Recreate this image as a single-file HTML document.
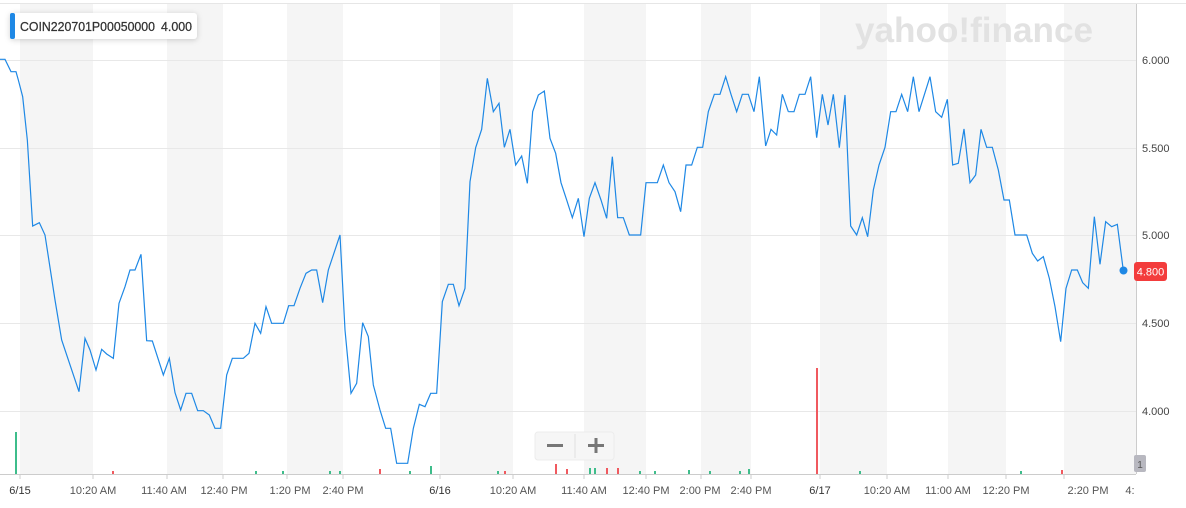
<!DOCTYPE html>
<html><head><meta charset="utf-8"><style>
body{margin:0;width:1186px;height:508px;overflow:hidden;background:#fff;font-family:"Liberation Sans",Arial,sans-serif}
svg{position:absolute;left:0;top:0}
</style></head><body>
<svg width="1186" height="508" viewBox="0 0 1186 508" xmlns="http://www.w3.org/2000/svg">
<line x1="0" y1="3.5" x2="1186" y2="3.5" stroke="#e6e6e6"/>
<g fill="#f5f5f5">
<rect x="20" y="4" width="73" height="470"/>
<rect x="167" y="4" width="56" height="470"/>
<rect x="287" y="4" width="56" height="470"/>
<rect x="440" y="4" width="73" height="470"/>
<rect x="584" y="4" width="62" height="470"/>
<rect x="701" y="4" width="50" height="470"/>
<rect x="820" y="4" width="67" height="470"/>
<rect x="948" y="4" width="58" height="470"/>
<rect x="1064" y="4" width="72" height="470"/>
</g>
<g stroke="#e8e8e8" stroke-width="1">
<line x1="0" y1="60.5" x2="1136" y2="60.5"/>
<line x1="0" y1="148.5" x2="1136" y2="148.5"/>
<line x1="0" y1="235.5" x2="1136" y2="235.5"/>
<line x1="0" y1="323.5" x2="1136" y2="323.5"/>
<line x1="0" y1="411.5" x2="1136" y2="411.5"/>
</g>
<text x="974" y="42" text-anchor="middle" font-size="35" font-weight="bold" fill="#e2e2e2" textLength="238" lengthAdjust="spacingAndGlyphs">yahoo!finance</text>
<line x1="1136.5" y1="4" x2="1136.5" y2="474" stroke="#ccc"/>
<line x1="0" y1="474.5" x2="1136" y2="474.5" stroke="#ccc"/>
<g stroke="#ccc">
<line x1="20" y1="474" x2="20" y2="479"/><line x1="93" y1="474" x2="93" y2="479"/><line x1="167" y1="474" x2="167" y2="479"/><line x1="223" y1="474" x2="223" y2="479"/><line x1="287" y1="474" x2="287" y2="479"/><line x1="343" y1="474" x2="343" y2="479"/><line x1="440" y1="474" x2="440" y2="479"/><line x1="513" y1="474" x2="513" y2="479"/><line x1="584" y1="474" x2="584" y2="479"/><line x1="646" y1="474" x2="646" y2="479"/><line x1="701" y1="474" x2="701" y2="479"/><line x1="751" y1="474" x2="751" y2="479"/><line x1="820" y1="474" x2="820" y2="479"/><line x1="887" y1="474" x2="887" y2="479"/><line x1="948" y1="474" x2="948" y2="479"/><line x1="1006" y1="474" x2="1006" y2="479"/><line x1="1064" y1="474" x2="1064" y2="479"/>
</g>
<g stroke-width="2">
<line x1="16" y1="432" x2="16" y2="474" stroke="#3ebd8b"/>
<line x1="817" y1="368" x2="817" y2="474" stroke="#f0595f"/>
<line x1="431" y1="466" x2="431" y2="474" stroke="#3ebd8b"/>
<line x1="556" y1="464" x2="556" y2="474" stroke="#f0595f"/>
<line x1="590" y1="468" x2="590" y2="474" stroke="#3ebd8b"/>
<line x1="595" y1="468" x2="595" y2="474" stroke="#3ebd8b"/>
<line x1="607" y1="468" x2="607" y2="474" stroke="#f0595f"/>
<line x1="618" y1="468" x2="618" y2="474" stroke="#f0595f"/>
<line x1="567" y1="469" x2="567" y2="474" stroke="#f0595f"/>
<line x1="380" y1="469" x2="380" y2="474" stroke="#f0595f"/>
<line x1="749" y1="469" x2="749" y2="474" stroke="#3ebd8b"/>
<line x1="689" y1="470" x2="689" y2="474" stroke="#3ebd8b"/>
<line x1="740" y1="471" x2="740" y2="474" stroke="#3ebd8b"/>
<line x1="1062" y1="470" x2="1062" y2="474" stroke="#f0595f"/>
<line x1="1021" y1="471" x2="1021" y2="474" stroke="#3ebd8b"/>
<line x1="410" y1="471" x2="410" y2="474" stroke="#3ebd8b"/>
<line x1="498" y1="471" x2="498" y2="474" stroke="#3ebd8b"/>
<line x1="505" y1="471" x2="505" y2="474" stroke="#f0595f"/>
<line x1="860" y1="471" x2="860" y2="474" stroke="#3ebd8b"/>
<line x1="256" y1="471" x2="256" y2="474" stroke="#3ebd8b"/>
<line x1="283" y1="471" x2="283" y2="474" stroke="#3ebd8b"/>
<line x1="330" y1="471" x2="330" y2="474" stroke="#3ebd8b"/>
<line x1="340" y1="471" x2="340" y2="474" stroke="#3ebd8b"/>
<line x1="640" y1="471" x2="640" y2="474" stroke="#3ebd8b"/>
<line x1="655" y1="471" x2="655" y2="474" stroke="#3ebd8b"/>
<line x1="710" y1="471" x2="710" y2="474" stroke="#3ebd8b"/>
<line x1="113" y1="471" x2="113" y2="474" stroke="#f0595f"/>
</g>
<g transform="translate(0,40) scale(0.33333)" fill="none" stroke="#1e88e5" stroke-width="1.2">
<polyline vector-effect="non-scaling-stroke" points="0,58 15,58 33,95 48,95 55,120 68,170 82,300 98,558 118,548 135,585 165,780 185,900 237,1055 255,895 270,930 288,990 305,928 320,942 340,955 357,790 375,740 390,690 405,690 423,643 440,902 457,903 490,1005 508,955 525,1058 542,1110 558,1060 575,1060 593,1112 610,1112 628,1125 645,1165 662,1165 680,1005 697,955 730,955 747,940 765,850 782,880 798,800 815,850 850,850 866,797 882,797 900,745 918,700 935,690 950,690 968,788 985,690 1020,585 1035,870 1053,1060 1070,1030 1088,848 1105,890 1120,1035 1140,1110 1157,1165 1172,1165 1190,1270 1200,1270"/>
</g>
<g transform="translate(390,40) scale(0.33333)" fill="none" stroke="#1e88e5" stroke-width="1.2">
<polyline vector-effect="non-scaling-stroke" points="30,1270 53,1270 70,1165 88,1093 105,1100 122,1060 140,1060 157,785 175,733 190,733 207,797 225,745 240,425 257,323 275,268 292,115 310,215 327,190 343,322 360,268 377,375 395,348 412,430 428,215 445,165 463,153 480,295 497,340 513,428 530,480 547,533 565,475 582,590 598,475 615,428 633,480 650,535 667,350 683,533 700,533 718,585 752,585 768,428 802,428 820,375 837,428 855,455 872,515 888,375 905,375 922,322 938,322 955,215 973,163 990,163 1007,110 1023,163 1040,215 1057,163 1075,163 1092,215 1108,110 1127,318 1143,268 1160,285 1177,163 1195,215"/>
</g>
<g transform="translate(780,40) scale(0.33333)" fill="none" stroke="#1e88e5" stroke-width="1.2">
<polyline vector-effect="non-scaling-stroke" points="25,215 42,215 58,163 75,163 92,110 110,293 127,163 144,255 160,163 178,323 195,165 212,558 230,585 247,533 263,590 280,450 297,375 315,322 332,215 348,215 365,163 383,215 400,110 417,215 450,110 467,215 485,232 502,178 518,375 535,370 552,267 570,428 587,405 603,268 620,322 637,322 655,390 672,480 688,480 705,585 740,585 757,640 773,663 790,650 808,715 825,800 842,905 858,745 875,690 892,690 908,728 925,745 943,530 960,673 977,545 995,560 1012,553 1030,692"/>
</g>
<circle cx="1123.5" cy="270.5" r="4" fill="#1e88e5"/>
<g font-size="11" fill="#444">
<text x="1142" y="64">6.000</text>
<text x="1142" y="152">5.500</text>
<text x="1142" y="239">5.000</text>
<text x="1142" y="327">4.500</text>
<text x="1142" y="415">4.000</text>
</g>
<rect x="1134" y="262" width="33" height="19" rx="3" fill="#f33c3c"/>
<text x="1150.5" y="275.5" text-anchor="middle" font-size="11" fill="#fff">4.800</text>
<rect x="1134" y="455" width="12" height="17" rx="2" fill="#b8b8c0"/>
<text x="1140" y="468" text-anchor="middle" font-size="10" fill="#555">1</text>
<g font-size="11" fill="#555" text-anchor="middle">
<text x="20" y="494" fill="#333">6/15</text>
<text x="93" y="494">10:20 AM</text>
<text x="164" y="494">11:40 AM</text>
<text x="224" y="494">12:40 PM</text>
<text x="290" y="494">1:20 PM</text>
<text x="343" y="494">2:40 PM</text>
<text x="440" y="494" fill="#333">6/16</text>
<text x="513" y="494">10:20 AM</text>
<text x="584" y="494">11:40 AM</text>
<text x="646" y="494">12:40 PM</text>
<text x="700" y="494">2:00 PM</text>
<text x="751" y="494">2:40 PM</text>
<text x="820" y="494" fill="#333">6/17</text>
<text x="887" y="494">10:20 AM</text>
<text x="948" y="494">11:00 AM</text>
<text x="1006" y="494">12:20 PM</text>
<text x="1088" y="494">2:20 PM</text>
<text x="1130" y="494">4:</text>
</g>
<rect x="535" y="432" width="79" height="28" rx="3" fill="#f6f6f6" stroke="#ececec"/>
<line x1="575" y1="434" x2="575" y2="458" stroke="#e0e0e0"/>
<rect x="547" y="444" width="16" height="3" fill="#777"/>
<rect x="588" y="444" width="16" height="3" fill="#777"/>
<rect x="594.5" y="438" width="3" height="15" fill="#777"/>
<rect x="10" y="13" width="187" height="26" rx="3" fill="#fff" style="filter:drop-shadow(0 1px 3px rgba(0,0,0,0.18))"/>
<rect x="10" y="13" width="5" height="26" rx="2" fill="#1e88e5"/>
<text x="20" y="31" font-size="12.5" fill="#333" textLength="135" lengthAdjust="spacingAndGlyphs" stroke="#333" stroke-width="0.25">COIN220701P00050000</text>
<text x="161" y="31" font-size="12.5" fill="#333" textLength="31" lengthAdjust="spacingAndGlyphs" stroke="#333" stroke-width="0.25">4.000</text>
</svg>
</body></html>
